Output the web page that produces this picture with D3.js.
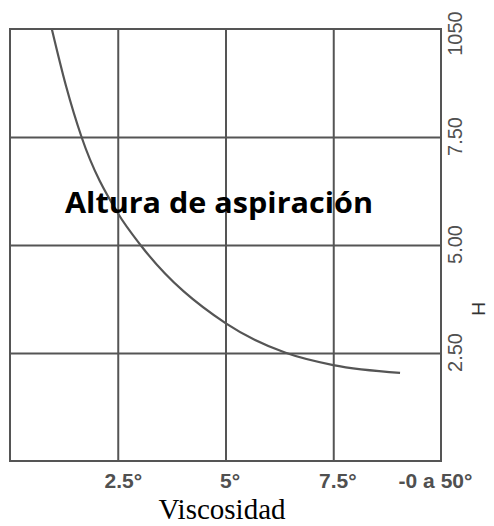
<!DOCTYPE html>
<html>
<head>
<meta charset="utf-8">
<script src="https://cdn.jsdelivr.net/npm/d3@7"></script>
<style>
  html, body { margin: 0; padding: 0; background: #fff; }
  svg { display: block; }
</style>
</head>
<body>
<svg id="chart" width="494" height="526"></svg>
<script>
// Data
const viscosity = [0.97, 1.3, 1.66, 2.5, 3.06, 5.0, 6.38, 7.5, 9.05];
const suctionHeight = [10, 8.68, 7.5, 5.74, 4.96, 3.19, 2.51, 2.22, 2.04];
const xTickValues = [2.5, 5, 7.5, 10];
const xTickLabels = ["2.5°", "5°", "7.5°", "-0 a 50°"];
const yTickValues = [2.5, 5, 7.5, 10];
const yTickLabels = ["2.50", "5.00", "7.50", "1050"];
const titleText = "Altura de aspiración";
const xTitle = "Viscosidad";
const yTitle = "H";

const W = 494, H = 526;
const margin = { top: 29, right: 53, bottom: 65, left: 10 };
const iw = W - margin.left - margin.right;
const ih = H - margin.top - margin.bottom;
const gridColor = "#555";

const svg = d3.select("#chart");
const g = svg.append("g").attr("transform", `translate(${margin.left},${margin.top})`);

const x = d3.scaleLinear().domain([0, 10]).range([0, iw]);
const y = d3.scaleLinear().domain([0, 10]).range([ih, 0]);

// vertical grid
const gx = g.append("g").attr("transform", `translate(0,${ih})`)
  .call(d3.axisBottom(x).tickValues([2.5, 5, 7.5]).tickSize(-ih).tickFormat(""));
gx.select(".domain").remove();
gx.selectAll("line").attr("stroke", gridColor).attr("stroke-width", 2);

// horizontal grid
const gy = g.append("g")
  .call(d3.axisLeft(y).tickValues([2.5, 5, 7.5]).tickSize(-iw).tickFormat(""));
gy.select(".domain").remove();
gy.selectAll("line").attr("stroke", gridColor).attr("stroke-width", 2);

// frame
g.append("rect").attr("x", 0).attr("y", 0).attr("width", iw).attr("height", ih)
  .attr("fill", "none").attr("stroke", gridColor).attr("stroke-width", 2);

// curve
const pts = viscosity.map((v, i) => [v, suctionHeight[i]]);
const line = d3.line().x(d => x(d[0])).y(d => y(d[1])).curve(d3.curveMonotoneX);
g.append("path").datum(pts).attr("d", line)
  .attr("fill", "none").attr("stroke", "#555").attr("stroke-width", 2.2)
  .attr("stroke-linecap", "butt");

// x axis labels
const xOff = [5, 4, 4, -6];
const ax = g.append("g").attr("transform", `translate(0,${ih})`)
  .call(d3.axisBottom(x).tickValues(xTickValues).tickSize(0).tickPadding(12)
    .tickFormat((d, i) => xTickLabels[i]));
ax.select(".domain").remove();
ax.selectAll("text")
  .attr("font-family", "'Liberation Sans', Arial, sans-serif")
  .attr("font-size", 21).attr("font-weight", "bold").attr("fill", "#505050")
  .attr("dx", (d, i) => xOff[i]);

// y axis labels (right, rotated)
const ay = g.append("g").attr("transform", `translate(${iw},0)`)
  .call(d3.axisRight(y).tickValues(yTickValues).tickSize(0).tickPadding(0)
    .tickFormat((d, i) => yTickLabels[i]));
ay.select(".domain").remove();
ay.selectAll(".tick text")
  .attr("x", null).attr("dy", null)
  .attr("text-anchor", "middle")
  .attr("dominant-baseline", "central")
  .attr("transform", (d, i) => `translate(14,${i === 3 ? 4 : -1}) rotate(-90)`)
  .attr("font-family", "'Liberation Sans', Arial, sans-serif")
  .attr("font-size", 20).attr("fill", "#505050");

// H label
svg.append("text")
  .attr("transform", "translate(478,309) rotate(-90)")
  .attr("text-anchor", "middle").attr("dominant-baseline", "central")
  .attr("font-family", "'Liberation Sans', Arial, sans-serif")
  .attr("font-size", 19).attr("fill", "#333")
  .text(yTitle);

// title inside plot
svg.append("text")
  .attr("x", 65).attr("y", 213)
  .attr("font-family", "'Open Sans', 'Noto Sans', sans-serif")
  .attr("font-weight", "bold").attr("font-size", 29).attr("fill", "#000")
  .attr("textLength", 308).attr("lengthAdjust", "spacingAndGlyphs")
  .text(titleText);

// x title
svg.append("text")
  .attr("x", 222).attr("y", 519)
  .attr("text-anchor", "middle")
  .attr("font-family", "'Liberation Serif', 'Times New Roman', serif")
  .attr("font-size", 29).attr("fill", "#000")
  .text(xTitle);
</script>
</body>
</html>
